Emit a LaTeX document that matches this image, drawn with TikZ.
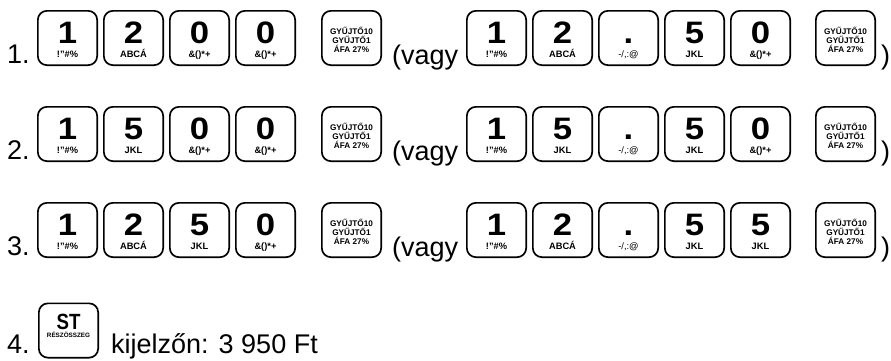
\documentclass[tikz,border=0pt]{standalone}
\usepackage{fontspec}
\setmainfont{Liberation Sans}
\usepackage{graphicx}
\tikzset{
  keybox/.style={draw, line width=1.7pt, rounded corners=9pt, minimum width=59.3pt, minimum height=54.3pt, inner sep=0pt},
  digitlbl/.style={anchor=base, inner sep=0pt, font=\fontsize{31}{31}\selectfont\bfseries},
  sublbl/.style={anchor=base, inner sep=0pt, font=\fontsize{9.3}{9.3}\selectfont\bfseries},
  gylbl/.style={anchor=base, inner sep=0pt, font=\fontsize{8.2}{8.2}\selectfont\bfseries},
  rowlbl/.style={anchor=base west, inner sep=0pt, font=\fontsize{27}{27}\selectfont},
}
\newcommand\mkkey[5]{%
  \node[keybox] (#1) at (#2+30.5,#3+28) {};
  \node[digitlbl] (#1-d) at (#2+30.5,#3+33.5) {\scalebox{1.12}[1]{#4}};
  \node[sublbl] (#1-s) at (#2+30.5,#3+47) {#5};
}
\newcommand\mkgy[3]{%
  \node[keybox] (#1) at (#2+30.5,#3+28) {};
  \node[gylbl] (#1-a) at (#2+30.5,#3+24) {GYŰJTŐ10};
  \node[gylbl] (#1-b) at (#2+30.5,#3+33) {GYŰJTŐ1};
  \node[gylbl] (#1-c) at (#2+30.5,#3+42) {ÁFA 27\%};
}
\begin{document}
\begin{tikzpicture}[x=1pt,y=-1pt]
\useasboundingbox (0,0) rectangle (891,360);
% row 1
\node[rowlbl] (l1) at (7,63) {1.};
\mkkey{a1}{37}{10}{1}{!"\#\%}
\mkkey{a2}{103}{10}{2}{ABCÁ}
\mkkey{a3}{169}{10}{0}{\&()*+}
\mkkey{a4}{235}{10}{0}{\&()*+}
\mkgy{ag}{321}{10}
\node[rowlbl] (v1) at (392,64) {(vagy};
\mkkey{b1}{466}{10}{1}{!"\#\%}
\mkkey{b2}{532}{10}{2}{ABCÁ}
\mkkey{b3}{598}{10}{.}{\mdseries -/,:@}
\mkkey{b4}{664}{10}{5}{JKL}
\mkkey{b5}{730}{10}{0}{\&()*+}
\mkgy{bg}{815}{10}
\node[rowlbl] (p1) at (881,64) {)};
% row 2
\node[rowlbl] (l2) at (7,159) {2.};
\mkkey{c1}{37}{106}{1}{!"\#\%}
\mkkey{c2}{103}{106}{5}{JKL}
\mkkey{c3}{169}{106}{0}{\&()*+}
\mkkey{c4}{235}{106}{0}{\&()*+}
\mkgy{cg}{321}{106}
\node[rowlbl] (v2) at (392,160) {(vagy};
\mkkey{d1}{466}{106}{1}{!"\#\%}
\mkkey{d2}{532}{106}{5}{JKL}
\mkkey{d3}{598}{106}{.}{\mdseries -/,:@}
\mkkey{d4}{664}{106}{5}{JKL}
\mkkey{d5}{730}{106}{0}{\&()*+}
\mkgy{dg}{815}{106}
\node[rowlbl] (p2) at (881,160) {)};
% row 3
\node[rowlbl] (l3) at (7,255) {3.};
\mkkey{e1}{37}{202}{1}{!"\#\%}
\mkkey{e2}{103}{202}{2}{ABCÁ}
\mkkey{e3}{169}{202}{5}{JKL}
\mkkey{e4}{235}{202}{0}{\&()*+}
\mkgy{eg}{321}{202}
\node[rowlbl] (v3) at (392,256) {(vagy};
\mkkey{f1}{466}{202}{1}{!"\#\%}
\mkkey{f2}{532}{202}{2}{ABCÁ}
\mkkey{f3}{598}{202}{.}{\mdseries -/,:@}
\mkkey{f4}{664}{202}{5}{JKL}
\mkkey{f5}{730}{202}{5}{JKL}
\mkgy{fg}{815}{202}
\node[rowlbl] (p3) at (881,256) {)};
% row 4
\node[rowlbl] (l4) at (7,353) {4.};
\node[keybox] (st) at (68.5,330.5) {};
\node[anchor=base, inner sep=0pt, font=\fontsize{22}{22}\selectfont\bfseries] (st-a) at (68.5,329) {\scalebox{0.85}[1]{ST}};
\node[anchor=base, inner sep=0pt, font=\fontsize{6.3}{6.3}\selectfont\bfseries] (st-b) at (68.5,337) {RÉSZÖSSZEG};
\node[rowlbl] (k4) at (111,353) {kijelzőn: 3 950 Ft};
\end{tikzpicture}
\end{document}
